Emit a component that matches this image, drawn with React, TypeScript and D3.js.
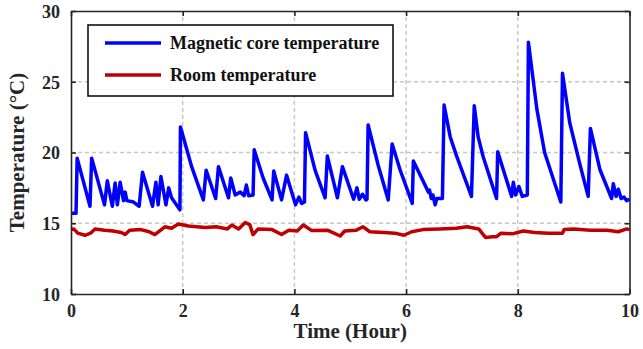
import * as d3 from "d3";
import { useEffect, useRef } from "react";

const width = 643;
const height = 349;

const xTicks = [0, 2, 4, 6, 8, 10];
const yTicks = [10, 15, 20, 25, 30];
const seriesNames = ["Magnetic core temperature", "Room temperature"];
const seriesColors = ["#0000ff", "#c00000"];

// [hour, °C]
const coreTemp: [number, number][] = [
  [0, 15.7], [0.09, 15.7], [0.11, 19.6], [0.34, 16.2], [0.37, 19.6], [0.6, 16.3],
  [0.65, 18.0], [0.74, 16.2], [0.79, 17.85], [0.83, 16.3], [0.88, 17.9], [0.94, 16.6],
  [0.97, 17.2], [1.0, 16.6], [1.12, 16.5], [1.22, 16.2], [1.28, 18.6], [1.46, 16.2],
  [1.52, 17.9], [1.56, 16.3], [1.61, 18.3], [1.7, 16.3], [1.75, 17.5], [1.8, 16.8],
  [1.95, 15.95], [1.96, 21.8], [2.16, 19.0], [2.37, 16.65], [2.42, 18.75], [2.59, 16.75],
  [2.64, 19.0], [2.82, 16.8], [2.86, 18.2], [2.94, 17.0], [3.03, 17.2], [3.1, 16.95],
  [3.14, 17.7], [3.18, 16.95], [3.26, 17.0], [3.28, 20.2], [3.44, 18.2], [3.6, 16.65],
  [3.63, 18.7], [3.77, 16.65], [3.86, 18.4], [4.02, 16.3], [4.08, 16.85], [4.13, 16.4],
  [4.18, 16.5], [4.2, 21.4], [4.37, 18.75], [4.55, 16.8], [4.59, 19.75], [4.77, 16.8],
  [4.86, 19.0], [5.06, 16.7], [5.12, 17.5], [5.16, 16.7], [5.22, 17.05], [5.28, 16.65],
  [5.3, 16.7], [5.32, 21.95], [5.5, 19.1], [5.68, 16.65], [5.75, 20.6], [5.89, 18.8],
  [6.11, 16.4], [6.13, 19.4], [6.4, 17.2], [6.42, 17.35], [6.45, 16.75], [6.48, 17.0],
  [6.52, 16.3], [6.55, 16.75], [6.65, 16.75], [6.68, 23.35], [6.79, 21.1], [6.9, 19.8],
  [7.17, 16.9], [7.22, 23.3], [7.29, 21.1], [7.38, 19.7], [7.62, 16.75], [7.64, 20.05],
  [7.89, 16.9], [7.92, 17.9], [7.96, 17.0], [8.02, 17.6], [8.08, 16.9], [8.17, 17.0],
  [8.19, 27.8], [8.34, 23.1], [8.48, 20.0], [8.58, 18.8], [8.77, 16.5], [8.8, 25.6],
  [8.93, 22.1], [9.11, 19.2], [9.26, 16.9], [9.3, 21.7], [9.47, 18.8], [9.68, 16.75],
  [9.71, 17.8], [9.76, 16.9], [9.8, 17.4], [9.85, 16.75], [9.9, 16.85], [9.95, 16.6],
  [10, 16.7],
];

const roomTemp: [number, number][] = [
  [0, 14.55], [0.05, 14.6], [0.12, 14.3], [0.25, 14.15], [0.35, 14.3], [0.43, 14.6],
  [0.6, 14.5], [0.75, 14.45], [0.9, 14.35], [0.97, 14.2], [1.05, 14.5], [1.25, 14.55],
  [1.4, 14.4], [1.5, 14.2], [1.6, 14.5], [1.68, 14.75], [1.8, 14.65], [1.92, 14.95],
  [2.1, 14.8], [2.4, 14.7], [2.6, 14.75], [2.8, 14.6], [2.88, 14.88], [3.0, 14.6],
  [3.12, 15.05], [3.2, 14.9], [3.26, 14.2], [3.35, 14.6], [3.6, 14.55], [3.77, 14.2],
  [3.9, 14.5], [4.05, 14.45], [4.16, 14.88], [4.31, 14.48], [4.6, 14.5], [4.82, 14.1],
  [4.9, 14.45], [5.1, 14.5], [5.23, 14.75], [5.35, 14.4], [5.6, 14.35], [5.8, 14.3],
  [5.96, 14.15], [6.1, 14.4], [6.3, 14.55], [6.6, 14.6], [6.9, 14.65], [7.09, 14.75],
  [7.3, 14.6], [7.42, 14.0], [7.55, 14.05], [7.62, 14.05], [7.7, 14.3], [7.9, 14.25],
  [8.1, 14.45], [8.3, 14.35], [8.55, 14.3], [8.8, 14.3], [8.83, 14.55], [9.0, 14.6],
  [9.3, 14.5], [9.6, 14.5], [9.8, 14.4], [9.95, 14.6], [10, 14.55],
];

const marginLeft = 71;
const marginRight = 13.5;
const marginTop = 11;
const marginBottom = 55;

export default function App() {
  const ref = useRef<SVGSVGElement>(null);

  useEffect(() => {
    const x = d3.scaleLinear().domain([0, 10]).range([marginLeft, width - marginRight]);
    const y = d3.scaleLinear().domain([10, 30]).range([height - marginBottom, marginTop]);
    const font = "'Liberation Serif', 'Times New Roman', serif";

    const svg = d3.select(ref.current);
    svg.selectAll("*").remove();

    // grid
    const grid = svg.append("g")
      .attr("stroke", "#c8c8c8")
      .attr("stroke-width", 1.5)
      .attr("stroke-dasharray", "4,3");
    grid.selectAll("line.gx")
      .data(xTicks.slice(1, -1))
      .join("line")
        .attr("x1", d => x(d)).attr("x2", d => x(d))
        .attr("y1", y(10)).attr("y2", y(30));
    grid.selectAll("line.gy")
      .data(yTicks.slice(1, -1))
      .join("line")
        .attr("class", "gy")
        .attr("x1", x(0)).attr("x2", x(10))
        .attr("y1", d => y(d)).attr("y2", d => y(d));

    // lines
    const line = d3.line<[number, number]>().x(d => x(d[0])).y(d => y(d[1]));
    [roomTemp, coreTemp].forEach((s, i) => {
      svg.append("path")
        .attr("d", line(s))
        .attr("fill", "none")
        .attr("stroke", seriesColors[1 - i])
        .attr("stroke-width", 3.5)
        .attr("stroke-linejoin", "round");
    });

    // axes (ticks inside, box on)
    const axisColor = "#262626";
    const tick = 5;
    const bottom = svg.append("g")
      .attr("transform", `translate(0,${y(10)})`)
      .call(d3.axisBottom(x).tickValues(xTicks).tickSizeInner(-tick).tickSizeOuter(0).tickPadding(7));
    const left = svg.append("g")
      .attr("transform", `translate(${x(0)},0)`)
      .call(d3.axisLeft(y).tickValues(yTicks).tickSizeInner(-tick).tickSizeOuter(0).tickPadding(11));
    const top = svg.append("g")
      .attr("transform", `translate(0,${y(30)})`)
      .call(d3.axisTop(x).tickValues(xTicks).tickSizeInner(-tick).tickSizeOuter(0).tickFormat(() => ""));
    const right = svg.append("g")
      .attr("transform", `translate(${x(10)},0)`)
      .call(d3.axisRight(y).tickValues(yTicks).tickSizeInner(-tick).tickSizeOuter(0).tickFormat(() => ""));
    [bottom, left, top, right].forEach(g => {
      g.selectAll("path, line").attr("stroke", axisColor).attr("stroke-width", 1.6);
      g.selectAll("text")
        .attr("fill", axisColor)
        .attr("font-family", font)
        .attr("font-weight", "bold")
        .attr("font-size", 18);
    });
    bottom.selectAll("text").attr("dy", "0.9em");
    left.selectAll("text").attr("dy", "0.35em");

    // axis titles
    svg.append("text")
      .attr("x", (x(0) + x(10)) / 2)
      .attr("y", 338)
      .attr("text-anchor", "middle")
      .attr("font-family", font)
      .attr("font-weight", "bold")
      .attr("font-size", 21)
      .attr("fill", "#262626")
      .text("Time (Hour)");
    svg.append("text")
      .attr("transform", `translate(24,${(y(10) + y(30)) / 2}) rotate(-90)`)
      .attr("text-anchor", "middle")
      .attr("font-family", font)
      .attr("font-weight", "bold")
      .attr("font-size", 21)
      .attr("fill", "#262626")
      .text("Temperature (°C)");

    // legend
    const legend = svg.append("g");
    legend.append("rect")
      .attr("x", 88).attr("y", 25).attr("width", 305).attr("height", 71)
      .attr("fill", "#fff").attr("stroke", "#111").attr("stroke-width", 1.6);
    seriesNames.forEach((name, i) => {
      const ly = 43 + i * 32;
      legend.append("line")
        .attr("x1", 105).attr("x2", 161).attr("y1", ly).attr("y2", ly)
        .attr("stroke", seriesColors[i]).attr("stroke-width", 3.5);
      legend.append("text")
        .attr("x", 170).attr("y", ly).attr("dy", "0.35em")
        .attr("font-family", font).attr("font-weight", "bold").attr("font-size", 18)
        .attr("fill", "#111")
        .text(name);
    });
  }, []);

  return (
    <svg ref={ref} width={width} height={height}
      style={{ position: "fixed", left: 0, top: 0, background: "#fff" }} />
  );
}
